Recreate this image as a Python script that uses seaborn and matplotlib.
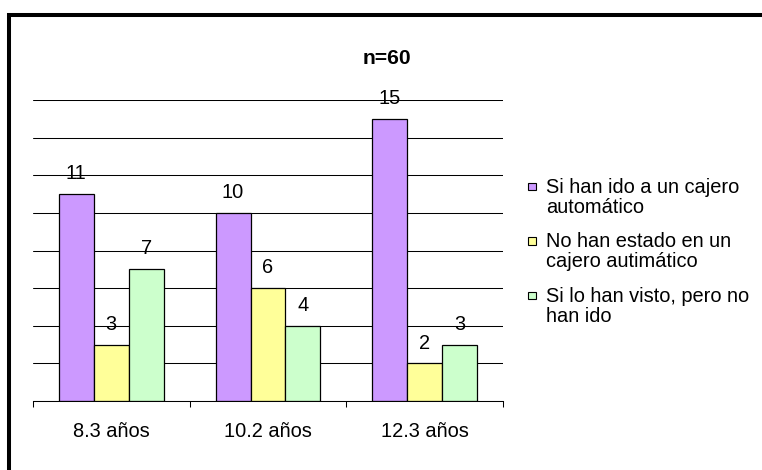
import matplotlib
matplotlib.use("Agg")
import matplotlib.pyplot as plt
import matplotlib.patches as mpatches
from matplotlib.ticker import FixedLocator
import pandas as pd
import seaborn as sns

# Data
categories = ["8.3 años", "10.2 años", "12.3 años"]
series = [
    "Si han ido a un cajero\nautomático",
    "No han estado en un\ncajero autimático",
    "Si lo han visto, pero no\nhan ido",
]
fueron = [11, 10, 15]
no_estado = [3, 6, 2]
vieron = [7, 4, 3]
colors = ["#CC99FF", "#FFFF99", "#CCFFCC"]
title = "n=60"

values = [fueron, no_estado, vieron]
df = pd.DataFrame(
    [(c, s, v[i]) for s, v in zip(series, values) for i, c in enumerate(categories)],
    columns=["edad", "grupo", "n"],
)

sns.set_theme(style="white")
plt.rcParams["font.family"] = ["Liberation Sans", "DejaVu Sans"]

W, H, DPI = 762, 470, 100
fig = plt.figure(figsize=(W / DPI, H / DPI), dpi=DPI)
fig.patch.set_facecolor("white")

def fx(px):
    return px / W

def fy(py):
    return 1 - py / H

ax = fig.add_axes([fx(33), fy(401), fx(503) - fx(33), fy(100) - fy(401)])

sns.barplot(
    data=df, x="edad", y="n", hue="grupo", hue_order=series, order=categories,
    palette=colors, width=0.67, gap=0, edgecolor="black", linewidth=0.9,
    saturation=1, legend=False, ax=ax,
)

ax.set_xlim(-0.5, len(categories) - 0.5)
ax.set_ylim(0, 16)
ax.set_yticks(range(0, 17, 2))
ax.set_yticklabels([])
ax.tick_params(axis="y", length=0)
ax.grid(axis="y", color="black", linewidth=0.75)
ax.grid(axis="x", visible=False)
ax.set_axisbelow(True)

for side in ["left", "right", "top"]:
    ax.spines[side].set_visible(False)
ax.spines["bottom"].set_color("black")
ax.spines["bottom"].set_linewidth(0.75)

ax.tick_params(axis="x", which="major", length=0, pad=15, labelsize=14.4, colors="black")
ax.xaxis.set_minor_locator(FixedLocator([i - 0.5 for i in range(len(categories) + 1)]))
ax.tick_params(axis="x", which="minor", length=4, width=0.75, color="black", direction="out", bottom=True)
ax.set_xlabel("")
ax.set_ylabel("")

for cont in ax.containers:
    ax.bar_label(cont, fmt="%d", padding=7.8, fontsize=14.4, color="black")

fig.text(fx(387), fy(63.5), title, ha="center", va="baseline",
         fontsize=15.2, fontweight="bold", color="black")

# Legend drawn beside the plot; each entry is a two-line label with a
# small swatch next to its first line
line_step = 21.0
first_baselines = [191.7, 246.2, 300.7]
for lab, col, b in zip(series, colors, first_baselines):
    sq = mpatches.Rectangle((fx(528), fy(b - 1.5)), fx(7.5), fy(0) - fy(7.5),
                            transform=fig.transFigure, facecolor=col,
                            edgecolor="black", linewidth=0.8)
    fig.add_artist(sq)
    n_lines = lab.count("\n") + 1
    fig.text(fx(546.5), fy(b + line_step * (n_lines - 1)), lab, ha="left",
             va="baseline", fontsize=14.4, color="black", linespacing=1.05)

# Outer frame
frame = mpatches.Rectangle((fx(9), -0.5), 2, fy(15) + 0.5,
                           transform=fig.transFigure, fill=False,
                           edgecolor="black", linewidth=2.9, clip_on=False)
fig.add_artist(frame)

fig.savefig("out.png", dpi=DPI, facecolor="white")
